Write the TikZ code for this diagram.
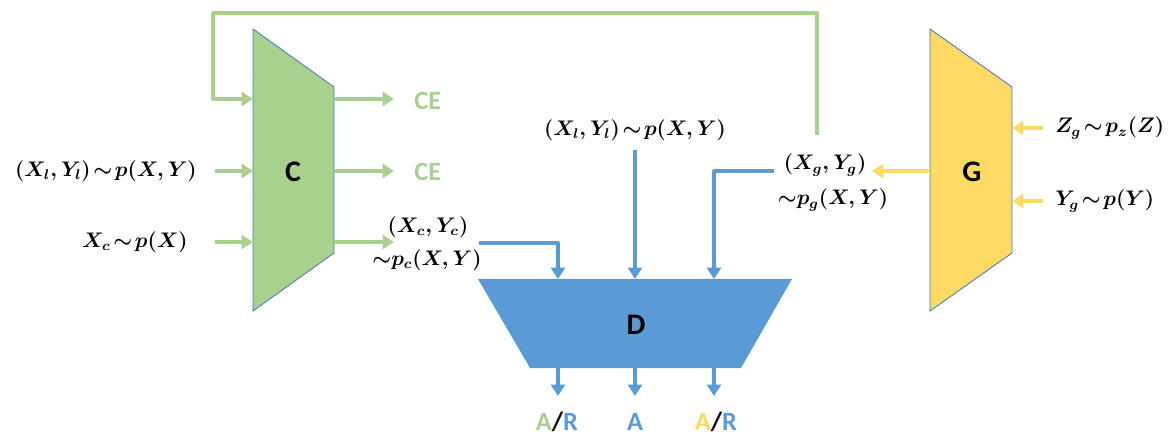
\documentclass[tikz,border=0pt]{standalone}
\usepackage{fontspec}
\setmainfont{Carlito}
\usetikzlibrary{arrows.meta}
\definecolor{cgreen}{HTML}{A9D18E}
\definecolor{cblue}{HTML}{5B9BD5}
\definecolor{cyellow}{HTML}{FFD966}
\definecolor{cborder}{HTML}{4A7DB5}
\thickmuskip=2mu plus 1mu
\tikzset{
  arr/.style={line width=2.2pt, line join=round, -{Triangle[length=6.5pt,width=8pt]}},
  garr/.style={arr, draw=cgreen},
  barr/.style={arr, draw=cblue},
  yarr/.style={arr, draw=cyellow},
  mlab/.style={inner sep=0pt, font=\fontsize{12}{14}\selectfont\boldmath},
  blk/.style={inner sep=0pt, font=\fontsize{17}{19}\selectfont\bfseries},
  celab/.style={inner sep=0pt, text=cgreen, font=\fontsize{15}{17}\selectfont\bfseries},
  outlab/.style={inner sep=0pt, font=\fontsize{15}{17}\selectfont\bfseries},
}
\begin{document}
\begin{tikzpicture}[x=0.02cm,y=-0.02cm]
\useasboundingbox (0,0) rectangle (1176,435);
% shapes
\filldraw[fill=cgreen, draw=cborder, line width=0.5pt] (253,29) -- (334,87) -- (334,253) -- (253,311) -- cycle;
\filldraw[fill=cyellow, draw=cborder, line width=0.5pt] (930,29) -- (1012,87) -- (1012,253) -- (930,311) -- cycle;
\fill[cblue] (478,279) -- (792,279) -- (741,368) -- (530,368) -- cycle;
\node[blk] (C) at (293,172) {C};
\node[blk] (G) at (972,172) {G};
\node[blk] (D) at (636,325) {D};
% coordinates on shapes
\coordinate (Cin1) at (253,99);
\coordinate (Cin2) at (253,171);
\coordinate (Cin3) at (253,242);
\coordinate (Cout1) at (334,99);
\coordinate (Cout2) at (334,171);
\coordinate (Cout3) at (334,242);
\coordinate (Gin1) at (1012,128);
\coordinate (Gin2) at (1012,201);
\coordinate (Gout) at (930,171);
\coordinate (Din1) at (558,279);
\coordinate (Din2) at (635,279);
\coordinate (Din3) at (714,279);
\coordinate (Dout1) at (558,368);
\coordinate (Dout2) at (635,368);
\coordinate (Dout3) at (714,368);
% labels
\node[mlab, anchor=east] (xl) at (197,171) {$(X_l,Y_l)\sim p(X,Y)$};
\node[mlab, anchor=east] (xc) at (188,242) {$X_c\sim p(X)$};
\node[celab, anchor=west] (ce1) at (414,101) {CE};
\node[celab, anchor=west] (ce2) at (414,172) {CE};
\node[mlab] (xcyc) at (428,227) {$(X_c,Y_c)$};
\node[mlab] (pc) at (427,260) {${\sim}p_c(X,Y)$};
\node[mlab] (xlt) at (635,130) {$(X_l,Y_l)\sim p(X,Y)$};
\node[mlab] (xgyg) at (825,165) {$\bigl(X_g,Y_g\bigr)$};
\node[mlab] (pg) at (833,200) {${\sim}p_g(X,Y)$};
\node[mlab, anchor=west] (zg) at (1055,128) {$Z_g\sim p_z(Z)$};
\node[mlab, anchor=west] (yg) at (1055,201) {$Y_g\sim p(Y)$};
\node[outlab] (o1) at (557,422) {\textcolor{cgreen}{A}/\textcolor{cblue}{R}};
\node[outlab] (o2) at (635,422) {\textcolor{cblue}{A}};
\node[outlab] (o3) at (716,422) {\textcolor{cyellow}{A}/\textcolor{cblue}{R}};
% connector end points
\coordinate (xlS) at (215,171);
\coordinate (xcS) at (215,242);
\coordinate (ce1E) at (394,99);
\coordinate (ce2E) at (394,171);
\coordinate (pcE) at (394,242);
\coordinate (fbS) at (817,135);
\coordinate (fbA) at (817,13);
\coordinate (fbB) at (213,13);
\coordinate (cS) at (479,243);
\coordinate (lS) at (635,150);
\coordinate (gS) at (774,171);
\coordinate (gE) at (872,171);
\coordinate (zS) at (1043,128);
\coordinate (yS) at (1043,201);
\coordinate (o1E) at (558,396);
\coordinate (o2E) at (635,396);
\coordinate (o3E) at (714,396);
% green arrows
\draw[garr] (xlS) -- (Cin2);
\draw[garr] (xcS) -- (Cin3);
\draw[garr] (Cout1) -- (ce1E);
\draw[garr] (Cout2) -- (ce2E);
\draw[garr] (Cout3) -- (pcE);
\draw[garr] (fbS) -- (fbA) -- (fbB) |- (Cin1);
% blue arrows
\draw[barr] (cS) -| (Din1);
\draw[barr] (lS) -- (Din2);
\draw[barr] (gS) -| (Din3);
\draw[barr] (Dout1) -- (o1E);
\draw[barr] (Dout2) -- (o2E);
\draw[barr] (Dout3) -- (o3E);
% yellow arrows
\draw[yarr] (Gout) -- (gE);
\draw[yarr] (zS) -- (Gin1);
\draw[yarr] (yS) -- (Gin2);
\end{tikzpicture}
\end{document}
